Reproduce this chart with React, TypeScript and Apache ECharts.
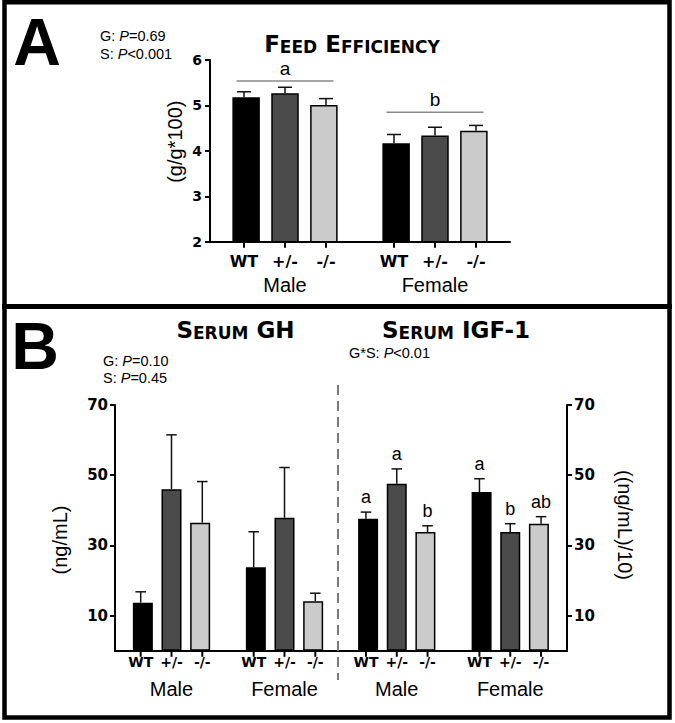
import React, { useEffect, useRef } from 'react';
import * as echarts from 'echarts';

// ---------- data ----------
const sexes = ['Male', 'Female'];
const genotypes = ['WT', '+/-', '-/-'];

// Panel A: feed efficiency (g/g*100)
const feedWT = [5.18, 4.17];
const feedHet = [5.27, 4.34];
const feedKO = [5.01, 4.44];
const feedWTSem = [0.12, 0.19];
const feedHetSem = [0.13, 0.18];
const feedKOSem = [0.14, 0.12];
const feedGroupLetters = ['a', 'b'];
const feedGroupLevel = [5.54, 4.85];

// Panel B: serum GH (ng/mL)
const ghWT = [13.7, 23.8];
const ghHet = [46.0, 37.9];
const ghKO = [36.5, 14.1];
const ghWTSem = [3.1, 10.1];
const ghHetSem = [15.5, 14.3];
const ghKOSem = [11.7, 2.3];

// Panel B: serum IGF-1 ((ng/mL)/10)
const igfWT = [37.6, 45.2];
const igfHet = [47.6, 33.8];
const igfKO = [33.8, 36.2];
const igfWTSem = [1.9, 3.8];
const igfHetSem = [4.2, 2.4];
const igfKOSem = [1.8, 2.0];
const igfWTLetters = ['a', 'a'];
const igfHetLetters = ['a', 'b'];
const igfKOLetters = ['b', 'ab'];

const feedTicks = { min: 2, max: 6, interval: 1 };
const serumTicks = [10, 30, 50, 70];

const barColors = ['#000000', '#4b4b4b', '#cbcbcb'];

const SANS = 'Liberation Sans, Arial, sans-serif';
const BOLD = 'DejaVu Sans, sans-serif';

function catAxis(gridIndex: number, spacing: number, gSize: number, gLH: number, sLH: number, margin: number) {
  return {
    type: 'category',
    gridIndex,
    data: sexes,
    axisLine: { show: true, lineStyle: { color: '#000', width: 2 } },
    axisTick: { show: false },
    axisLabel: {
      margin,
      interval: 0,
      formatter: (v: string) => genotypes.map((g) => `{g|${g}}`).join('') + `\n{s|${v}}`,
      rich: {
        g: { width: spacing, align: 'center', fontFamily: BOLD, fontWeight: 'bold', fontSize: gSize, lineHeight: gLH, color: '#000' },
        s: { align: 'center', fontFamily: SANS, fontSize: 20, lineHeight: sLH, color: '#000' },
      },
    },
  };
}

function barSeries(name: string, data: number[], color: string, idx: number, bw: number, spacing: number) {
  return {
    type: 'bar',
    name,
    data,
    xAxisIndex: idx,
    yAxisIndex: idx,
    barWidth: bw,
    barGap: `${((spacing - bw - 1.5) / (bw + 1.5)) * 100}%`,
    itemStyle: { color, borderColor: '#000', borderWidth: 1.5 },
    z: 2,
  };
}

function errSeries(
  idx: number,
  means: number[][],
  sems: number[][],
  spacing: number,
  capW: number,
  yMin: number,
  letters?: string[][]
) {
  const data: number[][] = [];
  const lbl: string[] = [];
  means.forEach((arr, g) =>
    arr.forEach((m, c) => {
      data.push([c, m, m + sems[g][c], g]);
      lbl.push(letters ? letters[g][c] : '');
    })
  );
  return {
    type: 'custom',
    xAxisIndex: idx,
    yAxisIndex: idx,
    clip: false,
    silent: true,
    z: 5,
    data,
    encode: { x: 0, y: 2 },
    renderItem: (params: any, api: any) => {
      const c = api.value(0);
      const m = api.value(1);
      const t = api.value(2);
      const g = api.value(3);
      const p0 = api.coord([c, m]);
      const p1 = api.coord([c, t]);
      const pb = api.coord([c, yMin]);
      const x = p0[0] + (g - 1) * spacing;
      const st = { stroke: '#111', lineWidth: 1.5 };
      const children: any[] = [
        { type: 'line', shape: { x1: x, y1: p0[1], x2: x, y2: p1[1] }, style: st },
        { type: 'line', shape: { x1: x - capW / 2, y1: p1[1], x2: x + capW / 2, y2: p1[1] }, style: st },
        { type: 'line', shape: { x1: x, y1: pb[1], x2: x, y2: pb[1] + 6 }, style: { stroke: '#000', lineWidth: 2 } },
      ];
      const L = lbl[params.dataIndex];
      if (L) {
        children.push({
          type: 'text',
          x,
          y: p1[1] - 6,
          style: { text: L, fill: '#000', fontSize: 18, fontFamily: SANS, align: 'center', verticalAlign: 'bottom' },
        });
      }
      return { type: 'group', children };
    },
  };
}

function groupLetterSeries() {
  return {
    type: 'custom',
    xAxisIndex: 0,
    yAxisIndex: 0,
    clip: false,
    silent: true,
    z: 5,
    data: feedGroupLevel.map((v, i) => [i, v]),
    renderItem: (params: any, api: any) => {
      const p = api.coord([api.value(0), api.value(1)]);
      return {
        type: 'group',
        children: [
          { type: 'line', shape: { x1: p[0] - 48.5, y1: p[1], x2: p[0] + 48.5, y2: p[1] }, style: { stroke: '#8a8a8a', lineWidth: 1.5 } },
          {
            type: 'text',
            x: p[0],
            y: p[1] - 3,
            style: { text: feedGroupLetters[params.dataIndex], fill: '#000', fontSize: 19, fontFamily: SANS, align: 'center', verticalAlign: 'bottom' },
          },
        ],
      };
    },
  };
}

function valueAxisCommon(fontSize: number, margin: number) {
  return {
    type: 'value',
    axisLine: { show: true, lineStyle: { color: '#000', width: 2 } },
    axisTick: { show: true, inside: false, length: 5, lineStyle: { color: '#000', width: 2 } },
    axisLabel: { fontFamily: BOLD, fontWeight: 'bold', fontSize, color: '#000', margin },
    splitLine: { show: false },
  };
}

const titleRich = {
  b: { fontFamily: BOLD, fontWeight: 'bold', fontSize: 23, fill: '#000', verticalAlign: 'bottom' },
  s: { fontFamily: BOLD, fontWeight: 'bold', fontSize: 17, fill: '#000', verticalAlign: 'bottom' },
};

function titleText(text: string, x: number, y: number) {
  return {
    type: 'text',
    x,
    y,
    style: { text, rich: titleRich, fontFamily: BOLD, fontWeight: 'bold', fontSize: 23, fill: '#000', align: 'center', verticalAlign: 'middle' },
  };
}

const statRich = { i: { fontFamily: SANS, fontStyle: 'italic', fontSize: 14.5, fill: '#000' } };
function statText(text: string, x: number, y: number) {
  return {
    type: 'text',
    x,
    y,
    style: { text, rich: statRich, fontFamily: SANS, fontSize: 14.5, fill: '#000', align: 'left', verticalAlign: 'middle' },
  };
}

function plainText(text: string, x: number, y: number, size: number, rotation = 0, bold = false) {
  return {
    type: 'text',
    x,
    y,
    rotation,
    style: {
      text,
      fill: '#000',
      fontFamily: bold ? 'Liberation Sans, Arial, sans-serif' : SANS,
      fontWeight: bold ? 'bold' : 'normal',
      fontSize: size,
      align: 'center',
      verticalAlign: 'middle',
    },
  };
}

export default function App() {
  const ref = useRef<HTMLDivElement>(null);
  useEffect(() => {
    if (!ref.current) return;
    const chart = echarts.init(ref.current, null, { renderer: 'svg' });
    const option: any = {
      animation: false,
      backgroundColor: '#fff',
      grid: [
        { left: 210, top: 60, width: 300, height: 181.7 },
        { left: 115, top: 405, width: 226, height: 245.8 },
        { left: 340, top: 405, width: 227, height: 245.8 },
      ],
      xAxis: [
        catAxis(0, 41, 16, 22, 24, 9),
        catAxis(1, 30.8, 14, 20, 34, 1),
        catAxis(2, 30.8, 14, 20, 34, 1),
      ],
      yAxis: [
        { ...valueAxisCommon(14, 8), gridIndex: 0, min: feedTicks.min, max: feedTicks.max, interval: feedTicks.interval },
        {
          ...valueAxisCommon(15, 7),
          gridIndex: 1,
          min: 0,
          max: 70,
          axisTick: { show: true, length: 5, lineStyle: { color: '#000', width: 2 }, customValues: serumTicks },
          axisLabel: { fontFamily: BOLD, fontWeight: 'bold', fontSize: 15, color: '#000', margin: 7, customValues: serumTicks },
        },
        {
          ...valueAxisCommon(15, 7),
          gridIndex: 2,
          position: 'right',
          min: 0,
          max: 70,
          axisTick: { show: true, length: 5, lineStyle: { color: '#000', width: 2 }, customValues: serumTicks },
          axisLabel: { fontFamily: BOLD, fontWeight: 'bold', fontSize: 15, color: '#000', margin: 7, customValues: serumTicks },
        },
      ],
      series: [
        barSeries('WT', feedWT, barColors[0], 0, 27.5, 41),
        barSeries('+/-', feedHet, barColors[1], 0, 27.5, 41),
        barSeries('-/-', feedKO, barColors[2], 0, 27.5, 41),
        errSeries(0, [feedWT, feedHet, feedKO], [feedWTSem, feedHetSem, feedKOSem], 41, 14, feedTicks.min),
        groupLetterSeries(),
        barSeries('WT', ghWT, barColors[0], 1, 20, 30.8),
        barSeries('+/-', ghHet, barColors[1], 1, 20, 30.8),
        barSeries('-/-', ghKO, barColors[2], 1, 20, 30.8),
        errSeries(1, [ghWT, ghHet, ghKO], [ghWTSem, ghHetSem, ghKOSem], 30.8, 10.5, 0),
        barSeries('WT', igfWT, barColors[0], 2, 20, 30.8),
        barSeries('+/-', igfHet, barColors[1], 2, 20, 30.8),
        barSeries('-/-', igfKO, barColors[2], 2, 20, 30.8),
        errSeries(2, [igfWT, igfHet, igfKO], [igfWTSem, igfHetSem, igfKOSem], 30.8, 10.5, 0, [igfWTLetters, igfHetLetters, igfKOLetters]),
      ],
      graphic: [
        { type: 'rect', shape: { x: 4.5, y: 2.25, width: 665, height: 715.25 }, style: { fill: 'none', stroke: '#000', lineWidth: 4.5 }, z: 100 },
        { type: 'line', shape: { x1: 2, y1: 306.5, x2: 672, y2: 306.5 }, style: { stroke: '#000', lineWidth: 5 }, z: 100 },
        plainText('A', 37, 42, 66, 0, true),
        statText('G: {i|P}=0.69', 100, 36),
        statText('S: {i|P}<0.001', 100, 54),
        titleText('{b|F}{s|EED} {b|E}{s|FFICIENCY}', 352, 44),
        plainText('(g/g*100)', 175, 141.7, 20, Math.PI / 2),
        plainText('B', 35, 346, 66, 0, true),
        statText('G: {i|P}=0.10', 103, 361),
        statText('S: {i|P}=0.45', 103, 378),
        statText('G*S: {i|P}<0.01', 349, 353),
        titleText('{b|S}{s|ERUM} {b|GH}', 235.5, 330),
        titleText('{b|S}{s|ERUM} {b|IGF-1}', 456, 330),
        plainText('(ng/mL)', 60, 540, 20, Math.PI / 2),
        plainText('((ng/mL)/10)', 625, 525, 20, -Math.PI / 2),
        { type: 'line', shape: { x1: 338, y1: 385, x2: 338, y2: 680 }, style: { stroke: '#7a7a7a', lineWidth: 2, lineDash: [10, 6] }, z: 1 },
      ],
    };
    chart.setOption(option);
    return () => chart.dispose();
  }, []);
  return <div ref={ref} style={{ position: 'absolute', left: 0, top: 0, width: 675, height: 723 }} />;
}
